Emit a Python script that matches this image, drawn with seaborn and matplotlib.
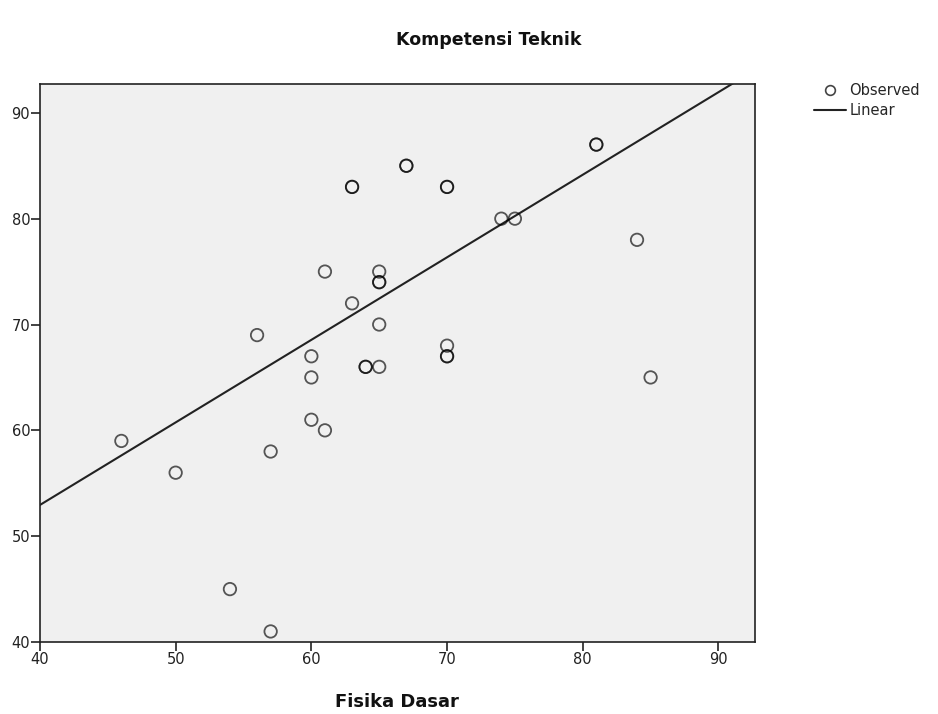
import numpy as np
import pandas as pd
import matplotlib
matplotlib.use("Agg")
import matplotlib.pyplot as plt
import seaborn as sns
from matplotlib.lines import Line2D

# Fisika Dasar vs Kompetensi Teknik (repeats where markers look heavier)
fisika = [46, 50, 54, 56, 57, 57, 60, 60, 60, 61, 61, 63, 63, 63, 64, 64,
          65, 65, 65, 65, 65, 67, 67, 70, 70, 70, 70, 70, 74, 75, 81, 81, 84, 85]
kompetensi = [59, 56, 45, 69, 58, 41, 67, 65, 61, 75, 60, 83, 83, 72, 66, 66,
              75, 74, 74, 70, 66, 85, 85, 83, 83, 68, 67, 67, 80, 80, 87, 87, 78, 65]
ticks = [40, 50, 60, 70, 80, 90]

# linear fit as drawn in the chart
fit_intercept = 21.75
fit_slope = 0.78

df = pd.DataFrame({"Fisika Dasar": fisika, "Kompetensi Teknik": kompetensi})

sns.set_style("ticks")
plt.rcParams['font.family'] = ['DejaVu Sans']

fig = plt.figure(figsize=(9.38, 7.14), dpi=100)
ax = fig.add_axes([0.0426, 0.1008, 0.7624, 0.7812])
ax.set_facecolor("#f0f0f0")
lim = (40, 92.7)

line_x = np.array(lim)
fit_df = pd.DataFrame({"x": line_x, "y": fit_intercept + fit_slope * line_x})
sns.lineplot(data=fit_df, x="x", y="y", ax=ax, color="#222222", lw=1.5)
# semi-transparent edges so stacked cases come out darker, like the original
sns.scatterplot(data=df, x="Fisika Dasar", y="Kompetensi Teknik", ax=ax,
                marker="o", s=80, facecolor="none", edgecolor=(0, 0, 0, 0.65),
                linewidth=1.3, zorder=3)
ax.set_xlim(*lim)
ax.set_ylim(*lim)

ax.set_xticks(ticks)
ax.set_yticks(ticks)
ax.tick_params(axis="both", labelsize=10.5, length=6.5, width=1.2, color="#222222",
               labelcolor="#222222", pad=0.5)
for sp in ax.spines.values():
    sp.set_color("#222222")
    sp.set_linewidth(1.2)

ax.set_xlabel("")
ax.set_ylabel("")
fig.text(0.521, 0.944, "Kompetensi Teknik", ha="center", va="center",
         fontsize=12.5, fontweight="bold", color="#111111")
fig.text(0.4235, 0.017, "Fisika Dasar", ha="center", va="center",
         fontsize=13, fontweight="bold", color="#111111")

handles = [Line2D([], [], marker="o", ls="none", markerfacecolor="none",
                  markeredgecolor="#444444", markersize=7, markeredgewidth=1.2),
           Line2D([], [], color="#222222", lw=1.5)]
fig.legend(handles, ["Observed", "Linear"], loc="upper left",
           bbox_to_anchor=(0.868, 0.884), frameon=False, fontsize=10.5,
           handlelength=2.2, handletextpad=0.2, labelspacing=0.35,
           borderpad=0, borderaxespad=0)

fig.savefig("out.png", dpi=100)
